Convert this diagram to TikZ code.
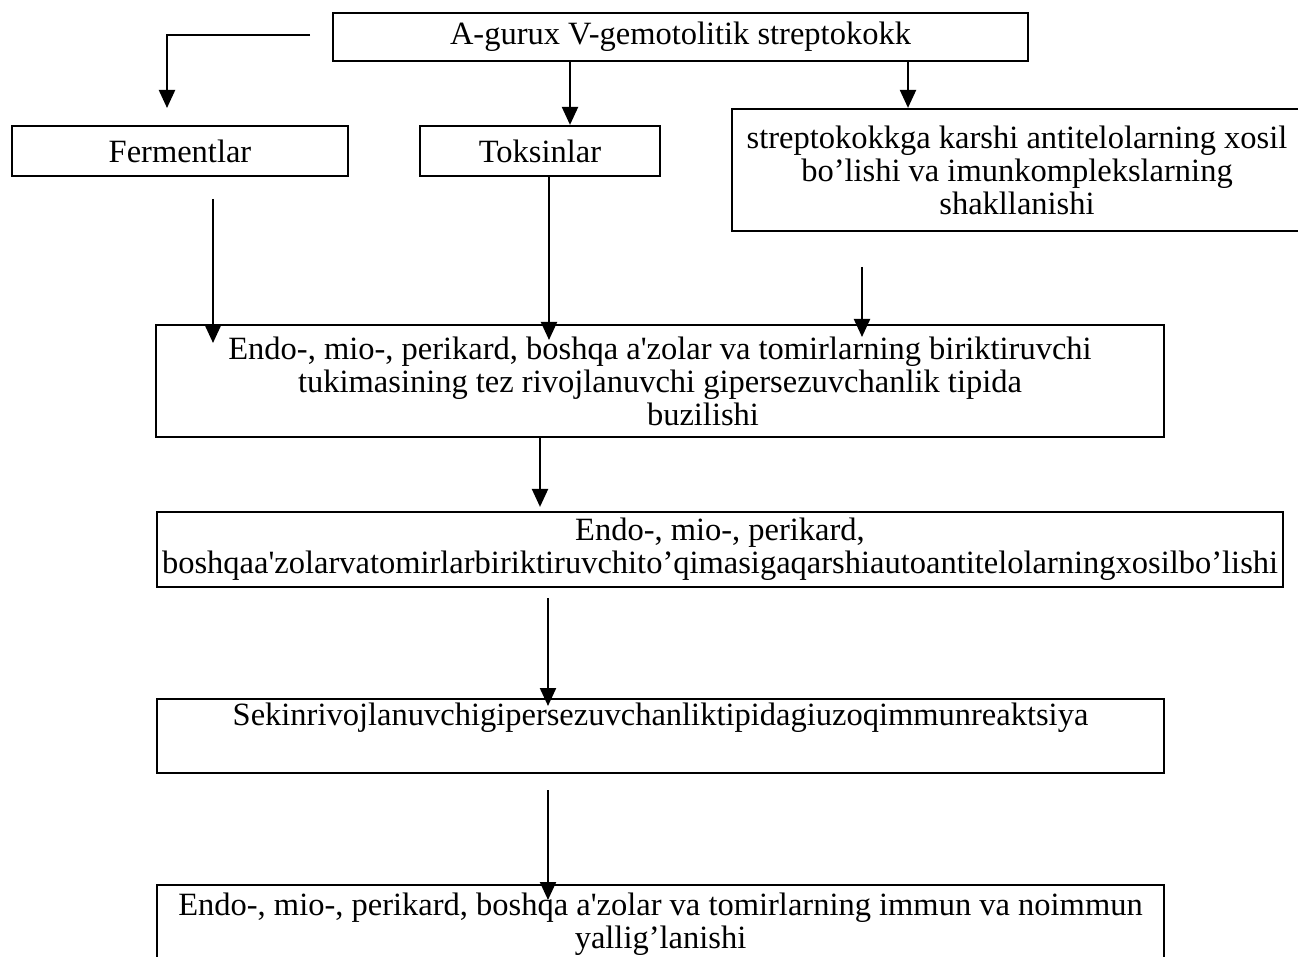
\documentclass[tikz,border=0pt]{standalone}
\usepackage{fontspec}
\setmainfont{Liberation Serif}
\usetikzlibrary{arrows.meta,calc}
\newcommand{\sq}{\textquotesingle}
\begin{document}
\begin{tikzpicture}[x=1pt,y=-1pt,
  box/.style={draw,line width=2.2pt,inner sep=0pt,align=center,
    font=\fontsize{32.5}{33}\selectfont},
  arr/.style={line width=2.2pt,-{Triangle[length=18pt,width=16pt]}}]
\clip (0,0) rectangle (1298,957);
\fill[white] (0,0) rectangle (1298,957);

\node[box,minimum width=695pt,minimum height=48pt] (top) at (680.5,37) {A-gurux V-gemotolitik streptokokk};
\node[box,minimum width=336pt,minimum height=50pt] (ferm) at (180,151) {Fermentlar};
\node[box,minimum width=240pt,minimum height=50pt] (toks) at (540,151) {Toksinlar};
\node[box,minimum width=570pt,minimum height=122pt] (strep) at (1017,170) {streptokokkga karshi antitelolarning xosil\\bo’lishi va imunkomplekslarning\\shakllanishi};
\node[box,minimum width=1008pt,minimum height=112pt] (e1) at (660,381) {Endo-, mio-, perikard, boshqa a\sq zolar va tomirlarning biriktiruvchi\\tukimasining tez rivojlanuvchi gipersezuvchanlik tipida\\\hspace*{86pt}buzilishi};
\node[box,minimum width=1126pt,minimum height=75pt] (e2) at (720,549.5) {Endo-, mio-, perikard,\\boshqaa\sq zolarvatomirlarbiriktiruvchito’qimasigaqarshiautoantitelolarningxosilbo’lishi};
\node[box,minimum width=1007pt,minimum height=74pt] (sek) at (660.5,736) {Sekinrivojlanuvchigipersezuvchanliktipidagiuzoqimmunreaktsiya\\\strut};
\node[box,minimum width=1007pt,minimum height=78pt] (bot) at (660.5,924) {Endo-, mio-, perikard, boshqa a\sq zolar va tomirlarning immun va noimmun\\yallig’lanishi};

\coordinate (fa) at (310,35);
\coordinate (fb) at (167,108);
\draw[arr] (fa) -| (fb);

\coordinate (ta) at (570,0);
\draw[arr] (top.south -| ta) -- (toks.north -| ta);
\coordinate (sa) at (908,0);
\draw[arr] (top.south -| sa) -- (strep.north -| sa);

\coordinate (f1) at (213,199);
\coordinate (f2) at (213,343);
\draw[arr] (f1) -- (f2);
\coordinate (k2) at (549,340);
\draw[arr] (toks.south -| k2) -- (k2);
\coordinate (s1) at (862,267);
\coordinate (s2) at (862,337);
\draw[arr] (s1) -- (s2);

\coordinate (d1) at (540,0);
\draw[arr] (e1.south -| d1) -- ($(e2.north -| d1)+(0,-4)$);
\coordinate (d2) at (548,598);
\coordinate (d3) at (548,706);
\draw[arr] (d2) -- (d3);
\coordinate (d4) at (548,790);
\coordinate (d5) at (548,900);
\draw[arr] (d4) -- (d5);
\end{tikzpicture}
\end{document}
